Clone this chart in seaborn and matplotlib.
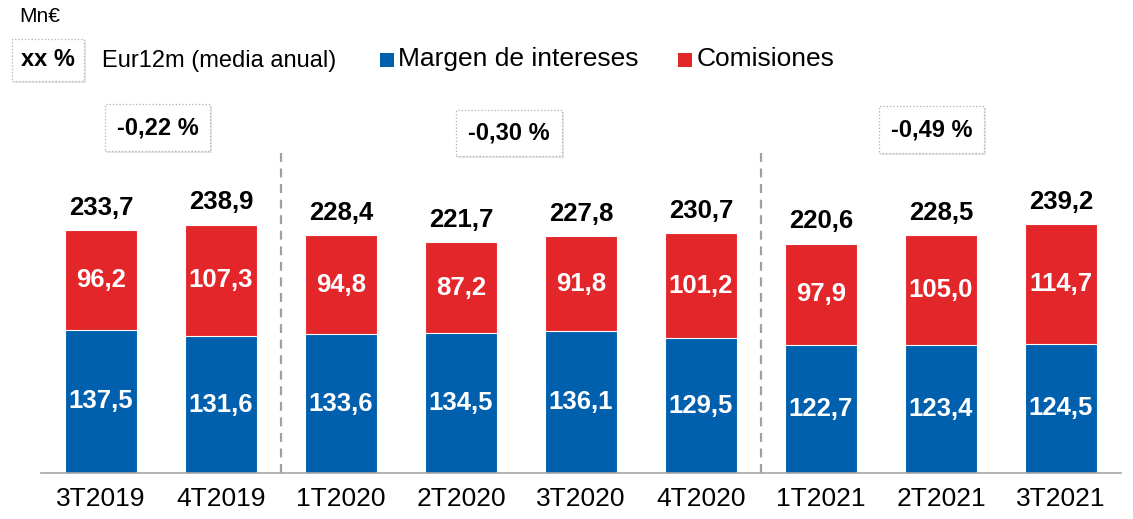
import matplotlib
matplotlib.use("Agg")
import matplotlib.pyplot as plt
import matplotlib.transforms as mtransforms
from matplotlib.patches import Rectangle
import seaborn as sns
import pandas as pd

# ---- data ----
categories = ["3T2019", "4T2019", "1T2020", "2T2020", "3T2020", "4T2020", "1T2021", "2T2021", "3T2021"]
margen = [137.5, 131.6, 133.6, 134.5, 136.1, 129.5, 122.7, 123.4, 124.5]
comisiones = [96.2, 107.3, 94.8, 87.2, 91.8, 101.2, 97.9, 105.0, 114.7]
totales = [233.7, 238.9, 228.4, 221.7, 227.8, 230.7, 220.6, 228.5, 239.2]
eur_labels = ["-0,22 %", "-0,30 %", "-0,49 %"]
eur_xpos = [0.47, 3.40, 6.92]
separators = [1.5, 5.5]

BLUE = "#0060AE"
RED = "#E3262A"

sns.set_theme(style="white")
plt.rcParams["font.family"] = ["Liberation Sans", "DejaVu Sans"]

df = pd.DataFrame({"cat": categories, "margen": margen, "total": totales})

W, H = 1133, 519
fig = plt.figure(figsize=(W / 100, H / 100), dpi=100)
ax = fig.add_axes([41 / W, 46 / H, 1080 / W, 473 / H])

sns.barplot(data=df, x="cat", y="total", order=categories, color=RED, saturation=1,
            width=0.6, edgecolor="white", linewidth=0.8, ax=ax)
sns.barplot(data=df, x="cat", y="margen", order=categories, color=BLUE, saturation=1,
            width=0.6, edgecolor="white", linewidth=0.8, ax=ax)

ax.set_xlim(-0.5, len(categories) - 0.5)
ax.set_ylim(0, 454.8)
ax.set_xlabel("")
ax.set_ylabel("")
ax.set_yticks([])
for s in ["top", "right", "left"]:
    ax.spines[s].set_visible(False)
ax.spines["bottom"].set_color("#a6a6a6")
ax.spines["bottom"].set_linewidth(1.2)

ax.set_xticks(range(len(categories)))
ax.set_xticklabels(categories, fontsize=19, color="black")
ax.set_xticks([i - 0.5 for i in range(len(categories) + 1)], minor=True)
ax.tick_params(axis="x", which="major", length=0, pad=10)
ax.tick_params(axis="x", which="minor", length=6, width=1.2, color="#a6a6a6", direction="out")

# segment labels
for i in range(len(categories)):
    ax.text(i, margen[i] / 2, f"{margen[i]:.1f}".replace(".", ","), ha="center", va="center",
            color="white", fontsize=18.5, fontweight="bold")
    ax.text(i, margen[i] + comisiones[i] / 2, f"{comisiones[i]:.1f}".replace(".", ","),
            ha="center", va="center", color="white", fontsize=18.5, fontweight="bold")
    ax.annotate(f"{totales[i]:.1f}".replace(".", ","), (i, totales[i]), xytext=(0, 11),
                textcoords="offset points", ha="center", va="baseline",
                color="black", fontsize=18.5, fontweight="bold")

# separators
for sx in separators:
    ax.plot([sx, sx], [0, 310], color="#a0a0a0", linestyle=(0, (4, 3)), linewidth=1.6, zorder=0.5)


def boxed(x, y, txt, transform, fs, pad):
    shadow = mtransforms.offset_copy(transform, fig=fig, x=2, y=-2, units="dots")
    ax.text(x, y, txt, transform=shadow, ha="center", va="center", fontsize=fs,
            fontweight="bold", color=(0, 0, 0, 0),
            bbox=dict(boxstyle=f"square,pad={pad}", facecolor="#e4e4e4", edgecolor="none"),
            zorder=4)
    ax.text(x, y, txt, transform=transform, ha="center", va="center", fontsize=fs,
            fontweight="bold", color="black",
            bbox=dict(boxstyle=f"square,pad={pad}", facecolor="white", edgecolor="#b0b0b0",
                      linestyle=":", linewidth=0.9),
            zorder=5)


for lab, xp, yp in zip(eur_labels, eur_xpos, [332, 327, 330]):
    boxed(xp, yp, lab, ax.transData, 17, 0.5)


# header / legend (figure pixel coordinates)
def fx(px):
    return px / W


def fy(py):
    return 1 - py / H


fig.text(fx(19), fy(17), "Mn€", ha="left", va="center", fontsize=15, color="black")
boxed(fx(48), fy(60), "xx %", fig.transFigure, 17, 0.4)
fig.text(fx(102), fy(61), "Eur12m (media anual)", ha="left", va="center", fontsize=17, color="black")

fig.patches.append(Rectangle((fx(380), fy(67)), 14 / W, 14 / H, transform=fig.transFigure,
                             facecolor=BLUE, edgecolor="none"))
fig.text(fx(398), fy(59), "Margen de intereses", ha="left", va="center", fontsize=19, color="black")
fig.patches.append(Rectangle((fx(678), fy(67)), 14 / W, 14 / H, transform=fig.transFigure,
                             facecolor=RED, edgecolor="none"))
fig.text(fx(697), fy(59), "Comisiones", ha="left", va="center", fontsize=19, color="black")

fig.savefig("out.png", dpi=100)
